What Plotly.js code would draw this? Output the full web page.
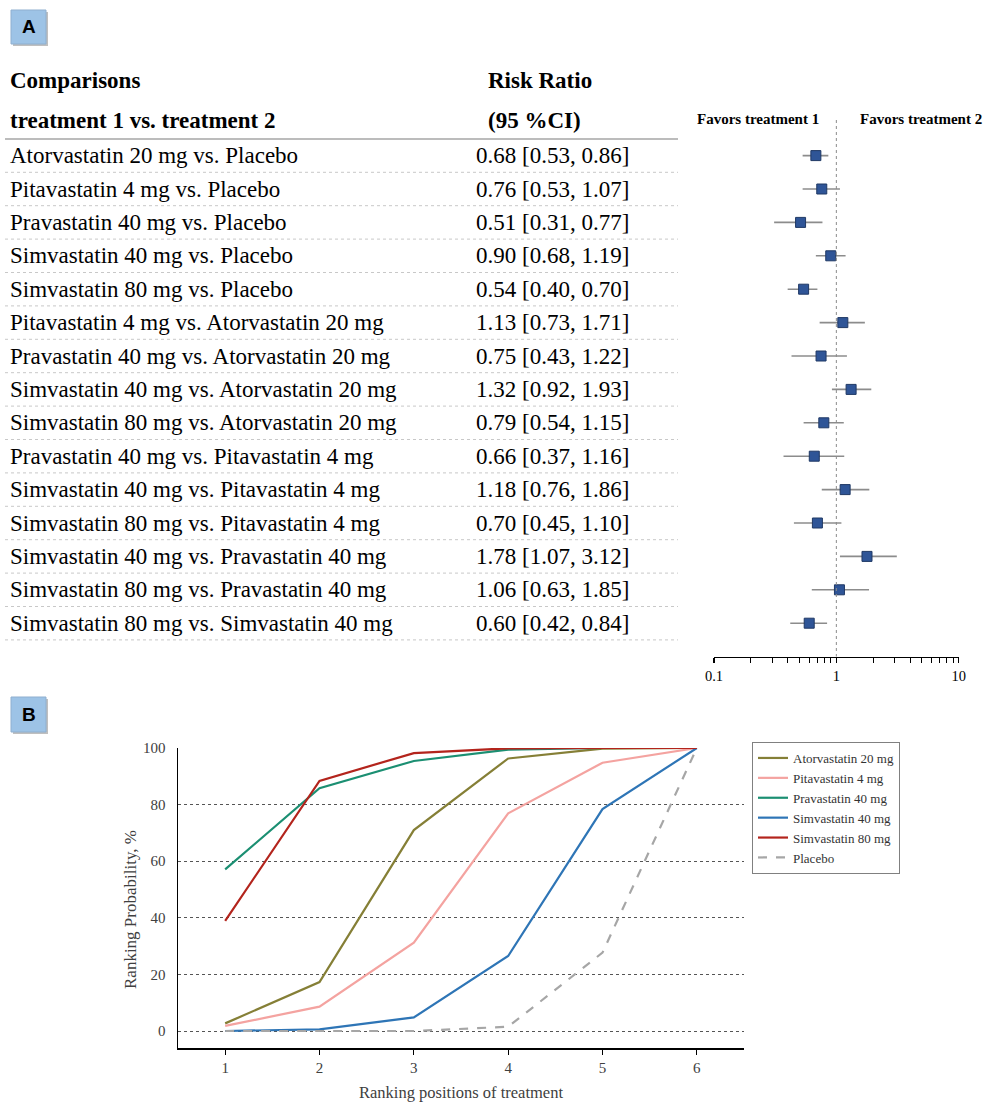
<!DOCTYPE html>
<html><head><meta charset="utf-8">
<script src="https://cdn.plot.ly/plotly-3.0.1.min.js"></script>
<style>html,body{margin:0;padding:0;background:#fff}</style>
</head><body><div id="chart" style="width:983px;height:1102px"></div>
<script>
// ---------- Panel A data ----------
const comparisons = [
  "Atorvastatin 20 mg vs. Placebo",
  "Pitavastatin 4 mg vs. Placebo",
  "Pravastatin 40 mg vs. Placebo",
  "Simvastatin 40 mg vs. Placebo",
  "Simvastatin 80 mg vs. Placebo",
  "Pitavastatin 4 mg vs. Atorvastatin 20 mg",
  "Pravastatin 40 mg vs. Atorvastatin 20 mg",
  "Simvastatin 40 mg vs. Atorvastatin 20 mg",
  "Simvastatin 80 mg vs. Atorvastatin 20 mg",
  "Pravastatin 40 mg vs. Pitavastatin 4 mg",
  "Simvastatin 40 mg vs. Pitavastatin 4 mg",
  "Simvastatin 80 mg vs. Pitavastatin 4 mg",
  "Simvastatin 40 mg vs. Pravastatin 40 mg",
  "Simvastatin 80 mg vs. Pravastatin 40 mg",
  "Simvastatin 80 mg vs. Simvastatin 40 mg"
];
const riskRatio = [0.68, 0.76, 0.51, 0.90, 0.54, 1.13, 0.75, 1.32, 0.79, 0.66, 1.18, 0.70, 1.78, 1.06, 0.60];
const ciLower   = [0.53, 0.53, 0.31, 0.68, 0.40, 0.73, 0.43, 0.92, 0.54, 0.37, 0.76, 0.45, 1.07, 0.63, 0.42];
const ciUpper   = [0.86, 1.07, 0.77, 1.19, 0.70, 1.71, 1.22, 1.93, 1.15, 1.16, 1.86, 1.10, 3.12, 1.85, 0.84];
const forestTicks = [0.1, 1, 10];
const forestMinorTicks = [0.2,0.3,0.4,0.5,0.6,0.7,0.8,0.9,2,3,4,5,6,7,8,9];

// ---------- Panel B data ----------
const rankPositions = [1, 2, 3, 4, 5, 6];
const atorvastatin20 = [2.7, 17.3, 71.0, 96.3, 99.8, 100];
const pitavastatin4  = [1.8, 8.6, 31.2, 76.9, 94.8, 100];
const pravastatin40  = [57.1, 85.8, 95.4, 99.4, 100, 100];
const simvastatin40  = [0, 0.6, 4.8, 26.5, 78.4, 100];
const simvastatin80  = [38.9, 88.4, 98.2, 99.9, 100, 100];
const placebo        = [0, 0, 0, 1.5, 27.7, 100];
const rankTicks = [0, 20, 40, 60, 80, 100];

const W = 983, H = 1102;
const px = x => x / W;
const py = y => 1 - y / H;
const serif = "Liberation Serif, Times New Roman, serif";

const rows = comparisons.map((_, i) => i + 1);
const fmt = v => v.toFixed(2);

const traces = [];
traces.push({
  x: riskRatio, y: rows, xaxis: 'x', yaxis: 'y', type: 'scatter', mode: 'markers',
  showlegend: false, hoverinfo: 'skip',
  marker: {symbol: 'square', size: 10, color: '#2F5597', line: {color: '#1F3864', width: 1}},
  error_x: {type: 'data', symmetric: false,
    array: riskRatio.map((v, i) => ciUpper[i] - v),
    arrayminus: riskRatio.map((v, i) => v - ciLower[i]),
    color: '#8C8C8C', thickness: 1.6, width: 0}
});

const series = [
  {name: 'Atorvastatin 20 mg', y: atorvastatin20, color: '#857F36', dash: 'solid'},
  {name: 'Pitavastatin 4 mg', y: pitavastatin4, color: '#F4A3A0', dash: 'solid'},
  {name: 'Pravastatin 40 mg', y: pravastatin40, color: '#1B8F72', dash: 'solid'},
  {name: 'Simvastatin 40 mg', y: simvastatin40, color: '#2E75B6', dash: 'solid'},
  {name: 'Simvastatin 80 mg', y: simvastatin80, color: '#B3241C', dash: 'solid'},
  {name: 'Placebo', y: placebo, color: '#A6A6A6', dash: 'dash'}
];
series.forEach(s => traces.push({
  x: rankPositions, y: s.y, xaxis: 'x2', yaxis: 'y2', type: 'scatter', mode: 'lines',
  name: s.name, line: {color: s.color, width: 2.2, dash: s.dash}, hoverinfo: 'skip'
}));

const annotations = [];
const shapes = [];

// Panel labels
[['A', 10, 44], ['B', 697, 732]].forEach(([t, y0, y1]) => {
  shapes.push({type: 'rect', xref: 'paper', yref: 'paper', x0: px(13), x1: px(48), y0: py(y0 + 2), y1: py(y1 + 2),
    fillcolor: '#7F7F7F', line: {width: 0}, opacity: 0.5});
  shapes.push({type: 'rect', xref: 'paper', yref: 'paper', x0: px(11), x1: px(46), y0: py(y0), y1: py(y1),
    fillcolor: '#9DC3E6', line: {color: '#8FAFCF', width: 1}});
  annotations.push({text: '<b>' + t + '</b>', xref: 'paper', yref: 'paper', x: px(28.5), y: py((y0 + y1) / 2),
    xanchor: 'center', yanchor: 'middle', showarrow: false,
    font: {family: 'Liberation Sans, Arial, sans-serif', size: 19, color: '#000'}});
});

// Table headers
const hdrFont = {family: serif, size: 23, color: '#000'};
annotations.push({text: '<b>Comparisons</b>', xref: 'paper', yref: 'paper', x: px(8), y: py(80), xanchor: 'left', yanchor: 'middle', showarrow: false, font: hdrFont});
annotations.push({text: '<b>treatment 1 vs. treatment 2</b>', xref: 'paper', yref: 'paper', x: px(8), y: py(121), xanchor: 'left', yanchor: 'middle', showarrow: false, font: hdrFont});
annotations.push({text: '<b>Risk Ratio</b>', xref: 'paper', yref: 'paper', x: px(486), y: py(80), xanchor: 'left', yanchor: 'middle', showarrow: false, font: hdrFont});
annotations.push({text: '<b>(95 %CI)</b>', xref: 'paper', yref: 'paper', x: px(486), y: py(121), xanchor: 'left', yanchor: 'middle', showarrow: false, font: hdrFont});

// Favors labels
const favFont = {family: serif, size: 15, color: '#000'};
annotations.push({text: '<b>Favors treatment 1</b>', xref: 'paper', yref: 'paper', x: px(758), y: py(119), xanchor: 'center', yanchor: 'middle', showarrow: false, font: favFont});
annotations.push({text: '<b>Favors treatment 2</b>', xref: 'paper', yref: 'paper', x: px(921), y: py(119), xanchor: 'center', yanchor: 'middle', showarrow: false, font: favFont});

// Table rows
const rowFont = {family: serif, size: 23, color: '#000'};
rows.forEach((r, i) => {
  annotations.push({text: comparisons[i], xref: 'paper', yref: 'y', x: px(8), y: r, xanchor: 'left', yanchor: 'middle', showarrow: false, font: rowFont});
  annotations.push({text: fmt(riskRatio[i]) + ' [' + fmt(ciLower[i]) + ', ' + fmt(ciUpper[i]) + ']',
    xref: 'paper', yref: 'y', x: px(474), y: r, xanchor: 'left', yanchor: 'middle', showarrow: false, font: rowFont});
  shapes.push({type: 'line', xref: 'paper', yref: 'y', x0: px(5), x1: px(678), y0: r + 0.5, y1: r + 0.5,
    line: {color: '#C8C8C8', width: 1, dash: 'dot'}});
});
// header rule
shapes.push({type: 'line', xref: 'paper', yref: 'y', x0: px(5), x1: px(678), y0: 0.5, y1: 0.5,
  line: {color: '#A6A6A6', width: 1.5}});
// reference line at RR = 1
shapes.push({type: 'line', xref: 'x', yref: 'y', x0: 1, x1: 1, y0: -0.066, y1: rows.length + 1,
  line: {color: '#8C8C8C', width: 1, dash: 'dot'}});

// Panel B y-axis title
annotations.push({text: 'Ranking Probability, %', xref: 'paper', yref: 'paper', x: px(130), y: py(910),
  xanchor: 'center', yanchor: 'middle', textangle: -90, showarrow: false,
  font: {family: serif, size: 17, color: '#404040'}});

const layout = {
  width: W, height: H,
  margin: {l: 0, r: 0, t: 0, b: 0},
  paper_bgcolor: '#fff', plot_bgcolor: 'rgba(0,0,0,0)',
  showlegend: true,
  xaxis: {
    type: 'log', range: [-1, 1], domain: [px(714), px(958.7)], anchor: 'y',
    showgrid: false, zeroline: false, showline: true, linecolor: '#000', linewidth: 1.5,
    ticks: 'outside', ticklen: 5, tickwidth: 1.2, tickcolor: '#000',
    tickvals: forestTicks, ticktext: forestTicks.map(String),
    tickfont: {family: serif, size: 14.5, color: '#000'},
    minor: {tickvals: forestMinorTicks, ticks: 'outside', ticklen: 5, tickwidth: 1, tickcolor: '#000', showgrid: false},
    fixedrange: true
  },
  yaxis: {
    range: [16.003, -0.066], domain: [py(656.7), py(120)], anchor: 'x',
    showgrid: false, zeroline: false, showline: false, showticklabels: false, ticks: '', fixedrange: true
  },
  xaxis2: {
    range: [0.5, 6.5], domain: [px(178), px(744)], anchor: 'y2',
    showgrid: false, zeroline: false, showline: true, linecolor: '#000', linewidth: 1.5,
    ticks: 'outside', ticklen: 5, tickwidth: 1.2, tickcolor: '#000',
    tickvals: rankPositions,
    tickfont: {family: serif, size: 15, color: '#404040'},
    title: {text: 'Ranking positions of treatment', font: {family: serif, size: 16.5, color: '#404040'}, standoff: 12}
  },
  yaxis2: {
    range: [-6, 100], domain: [py(1048), py(748)], anchor: 'x2',
    showgrid: true, gridcolor: '#555', griddash: 'dot', gridwidth: 1,
    zeroline: false, showline: true, linecolor: '#000', linewidth: 1.5,
    ticks: '', tickvals: rankTicks, ticklabelstandoff: 8,
    tickfont: {family: serif, size: 15, color: '#404040'}
  },
  legend: {
    x: px(752), y: py(742), xanchor: 'left', yanchor: 'top',
    bgcolor: '#fff', bordercolor: '#808080', borderwidth: 1,
    font: {family: serif, size: 13, color: '#333'}, itemwidth: 30, tracegroupgap: 0
  },
  annotations: annotations,
  shapes: shapes
};

Plotly.newPlot('chart', traces, layout, {displayModeBar: false, staticPlot: true});
</script>
</body></html>
